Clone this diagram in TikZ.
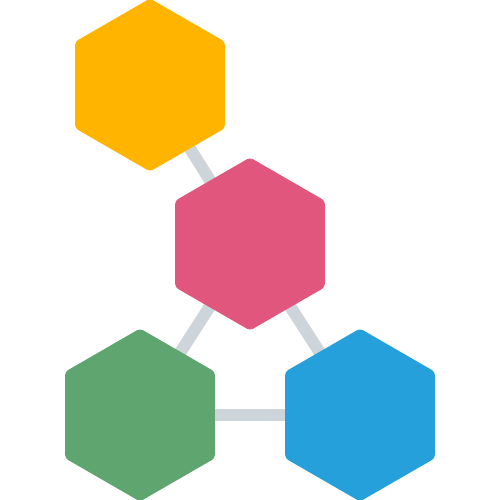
\documentclass[tikz,border=0pt]{standalone}
\usetikzlibrary{shapes.geometric,backgrounds}

\definecolor{hexyellow}{HTML}{FFB500}
\definecolor{hexpink}{HTML}{E0567C}
\definecolor{hexgreen}{HTML}{5FA56F}
\definecolor{hexblue}{HTML}{25A0DA}
\definecolor{linkgray}{HTML}{CDD5DB}

\tikzset{
    hexa/.style={regular polygon, regular polygon sides=6, shape border rotate=30,
        minimum size=3.46cm, inner sep=0pt, rounded corners=2pt, fill=#1},
    link/.style={draw=linkgray, line width=0.24cm}
}

\begin{document}
\begin{tikzpicture}
        \useasboundingbox (0,0) rectangle (10,10);
        \node [hexa=hexyellow] (yellow) at (3,8.3) {};
        \node [hexa=hexpink] (pink) at (5,5.12) {};
        \node [hexa=hexgreen] (green) at (2.8,1.7) {};
        \node [hexa=hexblue] (blue) at (7.2,1.7) {};
        \begin{scope}[on background layer]
            \draw [link] (yellow.center) -- (pink.center);
            \draw [link] (pink.center) -- (green.center);
            \draw [link] (pink.center) -- (blue.center);
            \draw [link] (green.center) -- (blue.center);
        \end{scope}
    \end{tikzpicture}
\end{document}
